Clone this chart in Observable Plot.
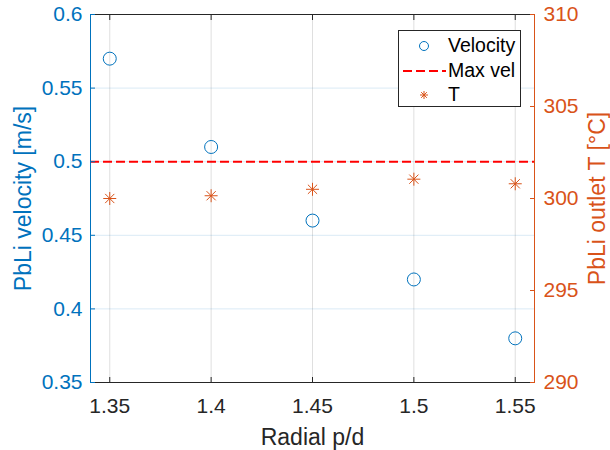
<!DOCTYPE html>
<html>
<head>
<meta charset="utf-8">
<script src="https://cdn.jsdelivr.net/npm/d3@7"></script>
<script src="https://cdn.jsdelivr.net/npm/@observablehq/plot@0.6"></script>
<style>
  html, body { margin: 0; padding: 0; background: #fff; }
  #wrap { position: relative; width: 610px; height: 450px; font-family: "Liberation Sans", Arial, sans-serif; }
  #legend { position: absolute; left: 398px; top: 30px; width: 123px; height: 77px; box-sizing: border-box;
    border: 1px solid #262626; background: #fff; }
  #legend svg { position: absolute; left: 0; top: 0; }
  #legend .lab { position: absolute; left: 49px; font-size: 19.5px; color: #000; line-height: 22px; white-space: nowrap; }
</style>
</head>
<body>
<div id="wrap"></div>
<script>
// ---- data ----
const pd = [1.35, 1.40, 1.45, 1.50, 1.55];
const velocity = [0.57, 0.51, 0.46, 0.42, 0.38];
const outletT = [300.0, 300.15, 300.5, 301.05, 300.8];
const maxVel = 0.5;

const xTicks = [1.35, 1.40, 1.45, 1.50, 1.55];
const xTickLabels = ["1.35", "1.4", "1.45", "1.5", "1.55"];
const vTicks = [0.35, 0.40, 0.45, 0.50, 0.55, 0.60];
const vTickLabels = ["0.35", "0.4", "0.45", "0.5", "0.55", "0.6"];
const tTicks = [290, 295, 300, 305, 310];
const tTickLabels = ["290", "295", "300", "305", "310"];

const xDomain = [1.3405, 1.5595];
const vDomain = [0.35, 0.6];
const tDomain = [290, 310];

const xLabel = "Radial p/d";
const vLabel = "PbLi velocity [m/s]";
const tLabel = "PbLi outlet T [°C]";
const legendLabels = ["Velocity", "Max vel", "T"];

// ---- styles ----
const blue = "#0072BD";
const orange = "#D95319";
const red = "#FF0000";
const dark = "#262626";
const tickFont = 21;
const labelFont = 23;

// map right-axis (T) values into the left-axis scale units
const tToV = d3.scaleLinear(tDomain, vDomain);

const asterisk = {
  draw(ctx, size) {
    const r = Math.sqrt(size / Math.PI);
    const d = r * Math.SQRT1_2;
    ctx.moveTo(-r, 0); ctx.lineTo(r, 0);
    ctx.moveTo(0, -r); ctx.lineTo(0, r);
    ctx.moveTo(-d, -d); ctx.lineTo(d, d);
    ctx.moveTo(-d, d); ctx.lineTo(d, -d);
  }
};

const vData = pd.map((x, i) => ({x, v: velocity[i]}));
const tData = pd.map((x, i) => ({x, t: outletT[i]}));

const chart = Plot.plot({
  width: 610,
  height: 450,
  marginLeft: 90,
  marginRight: 76,
  marginTop: 14,
  marginBottom: 68,
  style: {fontFamily: '"Liberation Sans", Arial, sans-serif', fontSize: tickFont + "px", background: "#fff", color: dark},
  x: {domain: xDomain},
  y: {domain: vDomain},
  marks: [
    Plot.gridX(xTicks, {stroke: dark, strokeOpacity: 0.15, strokeWidth: 1}),
    Plot.gridY(vTicks, {stroke: blue, strokeOpacity: 0.15, strokeWidth: 1}),
    Plot.ruleY([maxVel], {stroke: red, strokeWidth: 2, strokeDasharray: "9,4"}),
    Plot.dot(vData, {x: "x", y: "v", r: 6.5, stroke: blue, fill: "none", strokeWidth: 1}),
    Plot.dot(tData, {x: "x", y: d => tToV(d.t), r: 6.5, symbol: asterisk, stroke: orange, fill: "none", strokeWidth: 1}),
    // box lines
    Plot.ruleY([vDomain[0]], {stroke: dark, strokeWidth: 1}),
    Plot.ruleY([vDomain[1]], {stroke: dark, strokeWidth: 1}),
    Plot.ruleX([xDomain[0]], {stroke: blue, strokeWidth: 1}),
    Plot.ruleX([xDomain[1]], {stroke: orange, strokeWidth: 1}),
    // inward ticks
    Plot.axisX(xTicks, {anchor: "bottom", tickSize: -5, fill: "none", stroke: dark, label: null}),
    Plot.axisX(xTicks, {anchor: "top", tickSize: -5, fill: "none", stroke: dark, label: null}),
    Plot.axisY(vTicks, {anchor: "left", tickSize: -5, fill: "none", stroke: blue, label: null}),
    Plot.axisY(tTicks.map(tToV), {anchor: "right", tickSize: -5, fill: "none", stroke: orange, label: null}),
    // tick labels
    Plot.axisX(xTicks, {anchor: "bottom", tickSize: 0, tickPadding: 16, fontSize: tickFont, fill: dark,
      tickFormat: (d, i) => xTickLabels[i], label: null}),
    Plot.axisY(vTicks, {anchor: "left", tickSize: 0, tickPadding: 8, fontSize: tickFont, fill: blue,
      tickFormat: (d, i) => vTickLabels[i], label: null}),
    Plot.axisY(tTicks.map(tToV), {anchor: "right", tickSize: 0, tickPadding: 9, fontSize: tickFont, fill: orange,
      tickFormat: (d, i) => tTickLabels[i], label: null}),
    // axis titles
    Plot.text([xLabel], {text: d => d, frameAnchor: "bottom", dy: 55, lineAnchor: "middle", textAnchor: "middle",
      fontSize: labelFont, fill: dark}),
    Plot.text([vLabel], {text: d => d, frameAnchor: "left", dx: -67, rotate: -90, lineAnchor: "middle", textAnchor: "middle",
      fontSize: labelFont, fill: blue}),
    Plot.text([tLabel], {text: d => d, frameAnchor: "right", dx: 63, rotate: -90, lineAnchor: "middle", textAnchor: "middle",
      fontSize: labelFont, fill: orange})
  ]
});

const wrap = document.getElementById("wrap");
wrap.appendChild(chart);

// legend overlay
const legend = document.createElement("div");
legend.id = "legend";
const ns = "http://www.w3.org/2000/svg";
const lsvg = document.createElementNS(ns, "svg");
lsvg.setAttribute("width", 122); lsvg.setAttribute("height", 76);
const rowY = [15, 40, 64];
const c = document.createElementNS(ns, "circle");
c.setAttribute("cx", 25); c.setAttribute("cy", rowY[0]); c.setAttribute("r", 4.5);
c.setAttribute("fill", "none"); c.setAttribute("stroke", blue);
lsvg.appendChild(c);
const ln = document.createElementNS(ns, "line");
ln.setAttribute("x1", 4); ln.setAttribute("x2", 47); ln.setAttribute("y1", rowY[1]); ln.setAttribute("y2", rowY[1]);
ln.setAttribute("stroke", red); ln.setAttribute("stroke-width", 2); ln.setAttribute("stroke-dasharray", "9,4");
lsvg.appendChild(ln);
const st = document.createElementNS(ns, "path");
const p = d3.path();
asterisk.draw(p, Math.PI * 4 * 4);
st.setAttribute("d", p.toString());
st.setAttribute("transform", `translate(25,${rowY[2]})`);
st.setAttribute("fill", "none"); st.setAttribute("stroke", orange);
lsvg.appendChild(st);
legend.appendChild(lsvg);
legendLabels.forEach((t, i) => {
  const s = document.createElement("div");
  s.className = "lab";
  s.textContent = t;
  s.style.top = (rowY[i] - 1 - 11) + "px";
  legend.appendChild(s);
});
wrap.appendChild(legend);
</script>
</body>
</html>
